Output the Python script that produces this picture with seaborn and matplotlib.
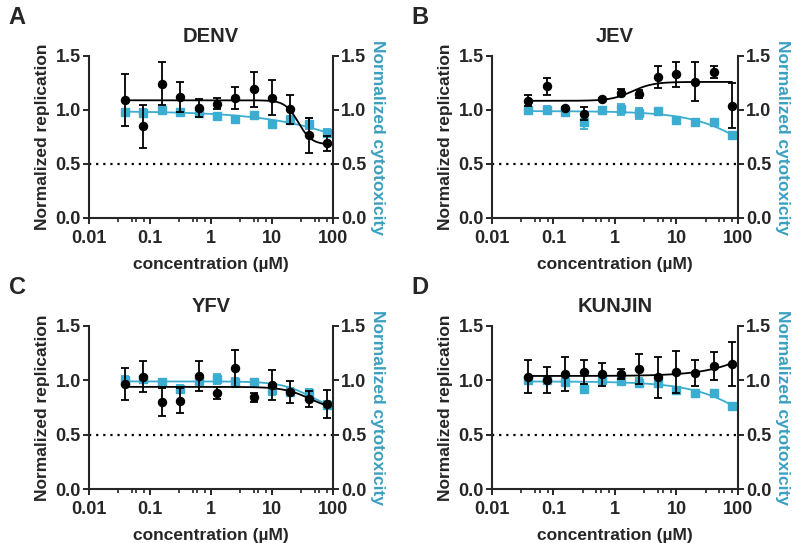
import numpy as np
import pandas as pd
import seaborn as sns
import matplotlib.pyplot as plt
from matplotlib.ticker import FixedLocator, NullFormatter

sns.set_style("ticks")
plt.rcParams["font.family"] = ["Liberation Sans", "DejaVu Sans"]
plt.rcParams["font.weight"] = "bold"

BLACK = "#000000"
CYAN = "#3aadd0"
CYAN_LABEL = "#3a9fc0"

# 2-fold dilution series (uM)
conc = [0.039, 0.078, 0.156, 0.3125, 0.625, 1.25, 2.5, 5, 10, 20, 40, 80]

panels = ["DENV", "JEV", "YFV", "KUNJIN"]
letters = ["A", "B", "C", "D"]

# normalized replication (black) mean / sd
rep_denv = [1.09, 0.85, 1.245, 1.12, 1.02, 1.06, 1.11, 1.19, 1.115, 1.005, 0.765, 0.69]
rep_denv_sd = [0.24, 0.20, 0.195, 0.135, 0.085, 0.055, 0.10, 0.16, 0.16, 0.13, 0.16, 0.07]
rep_jev = [1.087, 1.22, 1.02, 0.965, 1.10, 1.16, 1.148, 1.307, 1.332, 1.261, 1.35, 1.04]
rep_jev_sd = [0.052, 0.077, 0.01, 0.061, 0.01, 0.03, 0.04, 0.10, 0.116, 0.18, 0.058, 0.207]
rep_yfv = [0.966, 1.034, 0.798, 0.813, 1.04, 0.884, 1.11, 0.844, 0.957, 0.893, 0.829, 0.783]
rep_yfv_sd = [0.15, 0.144, 0.127, 0.118, 0.136, 0.054, 0.168, 0.04, 0.138, 0.098, 0.073, 0.128]
rep_kun = [1.034, 1.003, 1.061, 1.076, 1.055, 1.058, 1.104, 1.028, 1.073, 1.067, 1.135, 1.153]
rep_kun_sd = [0.153, 0.12, 0.156, 0.109, 0.108, 0.046, 0.136, 0.188, 0.194, 0.119, 0.13, 0.202]

# normalized cytotoxicity (cyan) mean / sd
tox_denv = [0.979, 0.972, 0.997, 0.982, 0.969, 0.948, 0.917, 0.951, 0.872, 0.911, 0.875, 0.789]
tox_denv_sd = [0.02, 0.04, 0.02, 0.02, 0.02, 0.02, 0.02, 0.02, 0.02, 0.03, 0.05, 0.035]
tox_jev = [1.0, 1.0, 0.98, 0.885, 1.0, 1.007, 0.97, 0.989, 0.903, 0.885, 0.885, 0.765]
tox_jev_sd = [0.02, 0.04, 0.02, 0.06, 0.02, 0.05, 0.05, 0.02, 0.02, 0.02, 0.02, 0.02]
tox_yfv = [1.003, 1.009, 0.982, 0.92, 0.997, 1.009, 0.985, 0.988, 0.911, 0.896, 0.881, 0.774]
tox_yfv_sd = [0.04, 0.03, 0.02, 0.035, 0.04, 0.045, 0.04, 0.02, 0.05, 0.03, 0.04, 0.035]
tox_kun = [1.003, 1.003, 0.988, 0.92, 1.003, 0.997, 0.979, 0.979, 0.911, 0.887, 0.887, 0.765]
tox_kun_sd = [0.02, 0.04, 0.03, 0.035, 0.02, 0.035, 0.04, 0.04, 0.03, 0.02, 0.02, 0.02]

# fitted dose-response curves: (y at low conc, y at high conc, EC50, hill)
fit_rep = [(1.09, 0.68, 27, 4.0), (1.085, 1.26, 1.9, 2.5), (0.94, 0.72, 42, 2.0), (1.04, 1.6, 300, 1.0)]
fit_tox = [(0.99, 0.0, 1200, 0.507), (0.99, 0.0, 375, 0.81), (0.99, 0.7, 45, 1.7), (0.99, 0.0, 375, 0.81)]

rep = [rep_denv, rep_jev, rep_yfv, rep_kun]
rep_sd = [rep_denv_sd, rep_jev_sd, rep_yfv_sd, rep_kun_sd]
tox = [tox_denv, tox_jev, tox_yfv, tox_kun]
tox_sd = [tox_denv_sd, tox_jev_sd, tox_yfv_sd, tox_kun_sd]


def dose_response(x, p):
    lo, hi, ec50, h = p
    r = (x / ec50) ** h
    return lo + (hi - lo) * r / (1 + r)


W, H = 801, 543
fig = plt.figure(figsize=(W / 100, H / 100), dpi=100)

# axes boxes in pixels: left, right, top, bottom
boxes = [(89, 333, 56, 218), (492, 738, 56, 218), (89, 333, 326, 489), (492, 738, 326, 489)]

xfit = np.logspace(np.log10(conc[0]), np.log10(conc[-1]), 300)

for i, name in enumerate(panels):
    l, r, t, b = boxes[i]
    ax = fig.add_axes([l / W, 1 - b / H, (r - l) / W, (b - t) / H])
    ax2 = ax.twinx()

    # dotted 50% line
    ax.axhline(0.5, color=BLACK, ls=(0, (1, 2.2)), lw=1.6, zorder=1)

    # cytotoxicity
    df_tox = pd.DataFrame({"x": xfit, "y": dose_response(xfit, fit_tox[i])})
    sns.lineplot(data=df_tox, x="x", y="y", ax=ax, color=CYAN, lw=1.3, zorder=2)
    ax.errorbar(conc, tox[i], yerr=tox_sd[i], fmt="s", color=CYAN, ms=5.5,
                capsize=2.6, elinewidth=1.3, capthick=1.3, zorder=3)

    # replication
    df_rep = pd.DataFrame({"x": xfit, "y": dose_response(xfit, fit_rep[i])})
    sns.lineplot(data=df_rep, x="x", y="y", ax=ax, color=BLACK, lw=1.3, zorder=4)
    ax.errorbar(conc, rep[i], yerr=rep_sd[i], fmt="o", color=BLACK, ms=5.8,
                capsize=2.6, elinewidth=1.3, capthick=1.3, zorder=5)

    ax.set_xscale("log")
    ax.set_xlim(0.01, 100)
    ax.set_ylim(0, 1.5)
    ax2.set_ylim(0, 1.5)
    ax.set_xticks([0.01, 0.1, 1, 10, 100])
    ax.set_xticklabels(["0.01", "0.1", "1", "10", "100"])
    minors = [d * s for d in [0.01, 0.1, 1, 10] for s in (3, 5, 6, 8)]
    ax.xaxis.set_minor_locator(FixedLocator(minors))
    ax.xaxis.set_minor_formatter(NullFormatter())
    for a in (ax, ax2):
        a.set_yticks([0, 0.5, 1.0, 1.5])
        a.set_yticklabels(["0.0", "0.5", "1.0", "1.5"])
        a.tick_params(axis="both", which="major", length=4.5, width=1.4,
                      labelsize=13, pad=1.5, direction="out")
        for s in a.spines.values():
            s.set_linewidth(1.5)
        a.spines["top"].set_visible(False)
    ax.tick_params(axis="x", which="minor", length=3, width=1.2, direction="out")
    ax.tick_params(axis="x", which="major", pad=4)
    ax.spines["right"].set_visible(False)
    ax2.spines["left"].set_visible(False)
    ax2.spines["bottom"].set_visible(False)

    ax.set_xlabel("concentration (\u00b5M)", fontsize=12.5, fontweight="bold", labelpad=7)
    ax.set_ylabel("Normalized replication", fontsize=12.5, fontweight="bold", labelpad=4)
    ax2.set_ylabel("Normalized cytotoxicity", fontsize=12.5, fontweight="bold",
                   color=CYAN_LABEL, rotation=270, labelpad=13)
    ax.set_title(name, fontsize=14.5, fontweight="bold", pad=10)

    fig.text((l - 72) / W, 1 - (t - 38) / H, letters[i], fontsize=17,
             fontweight="bold", ha="center", va="center")

fig.savefig("out.png", dpi=100)
